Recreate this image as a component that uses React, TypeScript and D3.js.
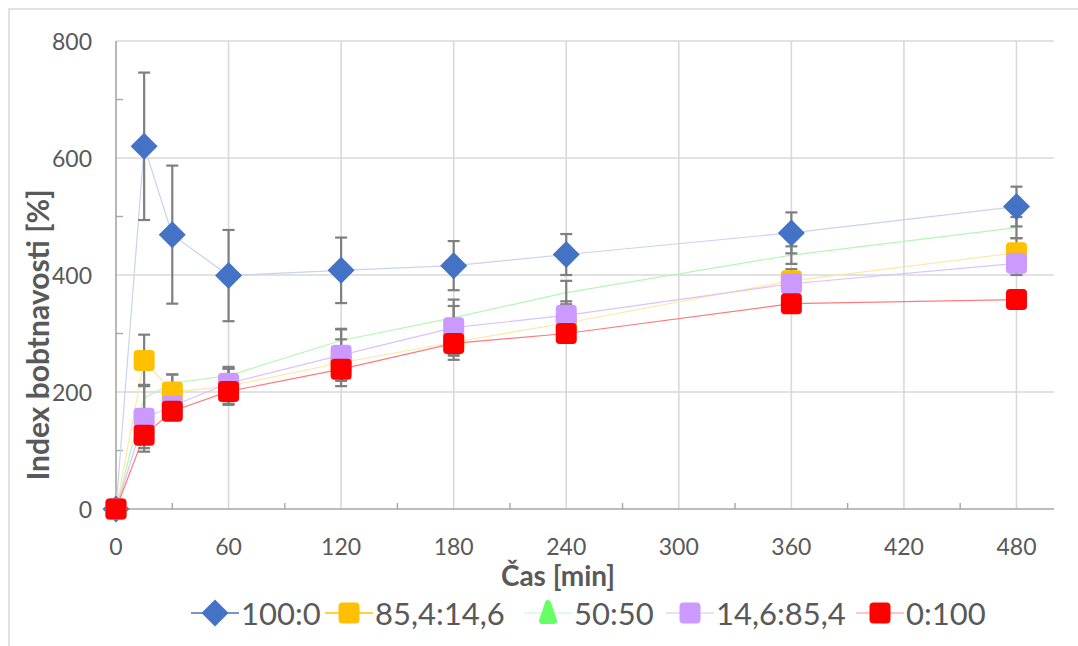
import React from "react";
import * as d3 from "d3";

const times = [0, 15, 30, 60, 120, 180, 240, 360, 480];
const s100 = [0, 620, 469, 399, 408, 416, 435, 472, 517];
const s85 = [0, 254, 200, 210, 250, 285, 318, 390, 438];
const s50 = [0, 190, 215, 228, 288, 327, 370, 434, 481];
const s14 = [0, 155, 176, 215, 263, 310, 331, 385, 420];
const s0 = [0, 126, 167, 201, 239, 283, 300, 351, 358];

const e100 = [0, 126, 118, 78, 56, 42, 35, 35, 34];
const e85 = [0, 44, 30, 30, 40, 30, 30, 20, 25];
const e50 = [0, 22, 15, 15, 20, 20, 20, 15, 18];
const e14 = [0, 57, 20, 25, 44, 48, 24, 20, 20];
const e0 = [0, 22, 15, 23, 15, 18, 15, 12, 12];

const seriesNames = ["100:0", "85,4:14,6", "50:50", "14,6:85,4", "0:100"];
const xTicks = [0, 60, 120, 180, 240, 300, 360, 420, 480];
const yTicks = [0, 200, 400, 600, 800];
const xMinor = [30, 90, 150, 210, 270, 330, 390, 450];
const yMinor = [100, 300, 500, 700];

const FONT = "Lato, 'Open Sans', sans-serif";

type Shape = "diamond" | "square" | "triangle";
const series: {
  name: string;
  values: number[];
  err: number[];
  color: string;
  line: string;
  shape: Shape;
  legendLine: string;
  showMarkers: boolean;
}[] = [
  { name: seriesNames[0], values: s100, err: e100, color: "#4472C4", line: "#c6d4ee", shape: "diamond", legendLine: "#4472C4", showMarkers: true },
  { name: seriesNames[1], values: s85, err: e85, color: "#FFC000", line: "#ffe7a6", shape: "square", legendLine: "#FFC000", showMarkers: true },
  { name: seriesNames[2], values: s50, err: e50, color: "#66FF66", line: "#b5f7b5", shape: "triangle", legendLine: "#d6fbd6", showMarkers: false },
  { name: seriesNames[3], values: s14, err: e14, color: "#CC99FF", line: "#dcc2fb", shape: "square", legendLine: "#e5d2fb", showMarkers: true },
  { name: seriesNames[4], values: s0, err: e0, color: "#FF0000", line: "#ff7b7b", shape: "square", legendLine: "#ffb0b0", showMarkers: true },
];

function Marker({ shape, x, y, color }: { shape: Shape; x: number; y: number; color: string }) {
  if (shape === "diamond") {
    const r = 13.5;
    return <path d={`M${x},${y - r}L${x + r},${y}L${x},${y + r}L${x - r},${y}Z`} fill={color} />;
  }
  if (shape === "square") {
    const s = 21;
    return <rect x={x - s / 2} y={y - s / 2} width={s} height={s} rx={4} fill={color} />;
  }
  const r = 10;
  return (
    <path
      d={`M${x},${y - r}L${x + r * 0.6},${y + r * 0.8}L${x - r * 0.6},${y + r * 0.8}Z`}
      fill={color}
      stroke={color}
      strokeWidth={6}
      strokeLinejoin="round"
    />
  );
}

export default function App() {
  const W = 1078;
  const H = 646;
  const left = 116;
  const right = 1054;
  const top = 41;
  const bottom = 509;

  const x = d3.scaleLinear().domain([0, 500]).range([left, right]);
  const y = d3.scaleLinear().domain([0, 800]).range([bottom, top]);

  const lineGen = d3
    .line<number>()
    .x((_, i) => x(times[i]))
    .y((v) => y(v));

  const legendX = [215, 349, 548, 690, 880];
  const legendY = 613;

  return (
    <svg
      width={W}
      height={H}
      style={{ position: "absolute", left: 0, top: 0, background: "#fff" }}
      fontFamily={FONT}
    >
      <rect x={0} y={0} width={W} height={H} fill="#fff" />
      <rect x={9} y={9} width={W + 10} height={H + 10} fill="none" stroke="#d9d9d9" strokeWidth={1.5} />

      {/* gridlines */}
      {yTicks.filter((t) => t > 0).map((t) => (
        <line key={"gy" + t} x1={left} x2={right} y1={y(t)} y2={y(t)} stroke="#d9d9d9" strokeWidth={1.6} />
      ))}
      {xTicks.filter((t) => t > 0).map((t) => (
        <line key={"gx" + t} x1={x(t)} x2={x(t)} y1={top} y2={bottom} stroke="#d9d9d9" strokeWidth={1.6} />
      ))}

      {/* axes */}
      <line x1={left} x2={left} y1={top} y2={bottom} stroke="#a6a6a6" strokeWidth={1.6} />
      <line x1={left} x2={right} y1={bottom} y2={bottom} stroke="#a6a6a6" strokeWidth={1.6} />
      {yMinor.map((t) => (
        <line key={"my" + t} x1={left} x2={left + 7} y1={y(t)} y2={y(t)} stroke="#a6a6a6" strokeWidth={1.4} />
      ))}
      {xMinor.map((t) => (
        <line key={"mx" + t} x1={x(t)} x2={x(t)} y1={bottom} y2={bottom - 6} stroke="#a6a6a6" strokeWidth={1.4} />
      ))}

      {/* tick labels */}
      {yTicks.map((t) => (
        <text key={"ty" + t} x={92} y={y(t)} textAnchor="end" dominantBaseline="central" fontSize={23} fill="#595959">
          {t}
        </text>
      ))}
      {xTicks.map((t) => (
        <text key={"tx" + t} x={x(t)} y={546} textAnchor="middle" dominantBaseline="central" fontSize={23} fill="#595959">
          {t}
        </text>
      ))}

      {/* axis titles */}
      <text x={558} y={575} textAnchor="middle" dominantBaseline="central" fontSize={28} fontWeight="bold" fill="#595959">
        Čas [min]
      </text>
      <text
        transform={`translate(37,335) rotate(-90)`}
        textAnchor="middle"
        dominantBaseline="central"
        fontSize={30}
        fontWeight="bold"
        fill="#595959"
      >
        Index bobtnavosti [%]
      </text>

      {/* series lines */}
      {series.map((s) => (
        <path key={"l" + s.name} d={lineGen(s.values) || ""} fill="none" stroke={s.line} strokeWidth={1.2} />
      ))}

      {/* error bars */}
      {series.map((s) =>
        s.values.map((v, i) =>
          s.err[i] > 0 ? (
            <g key={"e" + s.name + i} stroke="#7f7f7f" strokeWidth={2.2}>
              <line x1={x(times[i])} x2={x(times[i])} y1={y(v + s.err[i])} y2={y(v - s.err[i])} />
              <line x1={x(times[i]) - 6} x2={x(times[i]) + 6} y1={y(v + s.err[i])} y2={y(v + s.err[i])} />
              <line x1={x(times[i]) - 6} x2={x(times[i]) + 6} y1={y(v - s.err[i])} y2={y(v - s.err[i])} />
            </g>
          ) : null
        )
      )}

      {/* markers */}
      {series.map((s) =>
        s.showMarkers
          ? s.values.map((v, i) => (
              <Marker key={"m" + s.name + i} shape={s.shape} x={x(times[i])} y={y(v)} color={s.color} />
            ))
          : null
      )}

      {/* legend */}
      {series.map((s, i) => (
        <g key={"lg" + s.name}>
          <line x1={legendX[i] - 24} x2={legendX[i] + 24} y1={legendY} y2={legendY} stroke={s.legendLine} strokeWidth={1.5} />
          <Marker shape={s.shape} x={legendX[i]} y={legendY} color={s.color} />
          <text x={legendX[i] + 26} y={legendY} dominantBaseline="central" fontSize={31} fill="#595959">
            {s.name}
          </text>
        </g>
      ))}
    </svg>
  );
}
